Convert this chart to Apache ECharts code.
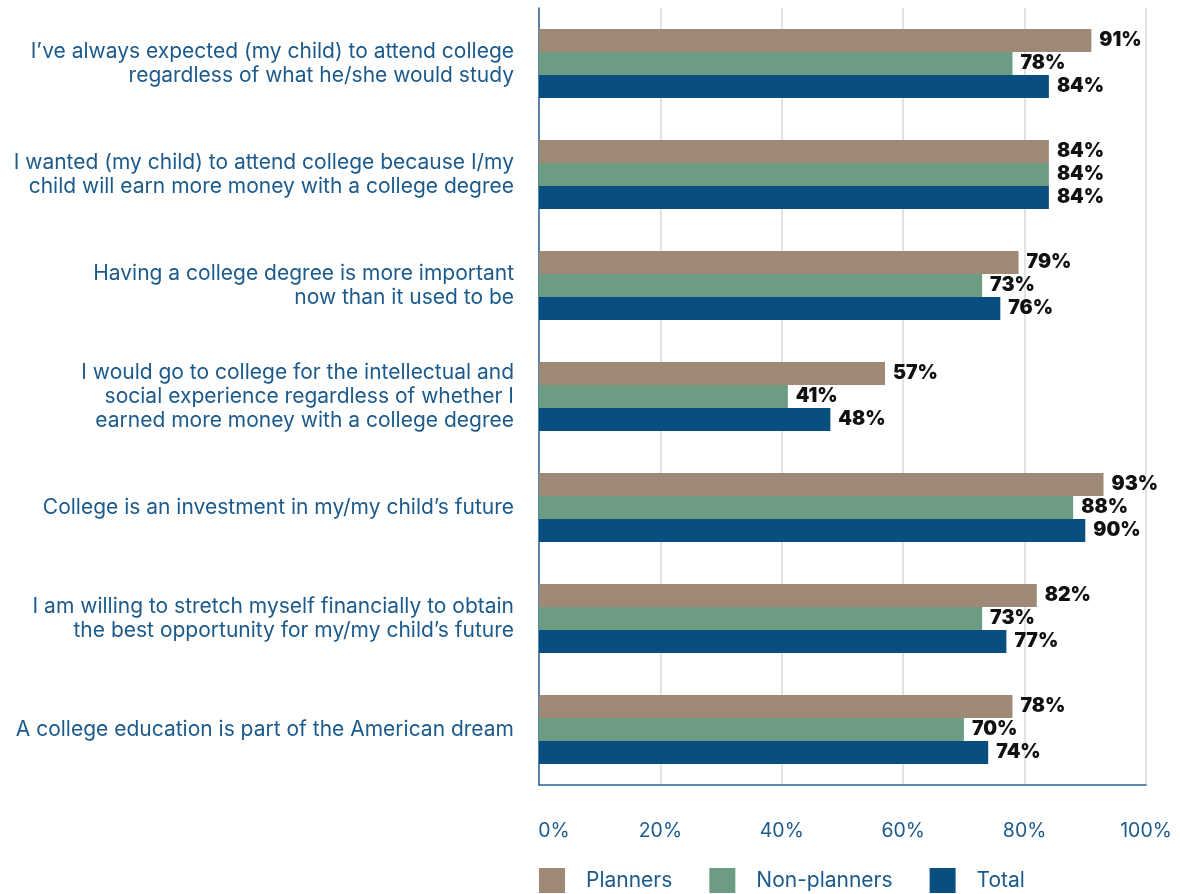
<!DOCTYPE html>
<html><head><meta charset="utf-8">
<script src="https://cdn.jsdelivr.net/npm/echarts@6/dist/echarts.min.js"></script>
<style>html,body{margin:0;padding:0;background:#fff}#c{width:1180px;height:894px}</style>
</head><body><div id="c"></div>
<script>
const categories = [
  "I\u2019ve always expected (my child) to attend college\nregardless of what he/she would study",
  "I wanted (my child) to attend college because I/my\nchild will earn more money with a college degree",
  "Having a college degree is more important\nnow than it used to be",
  "I would go to college for the intellectual and\nsocial experience regardless of whether I\nearned more money with a college degree",
  "College is an investment in my/my child\u2019s future",
  "I am willing to stretch myself financially to obtain\nthe best opportunity for my/my child\u2019s future",
  "A college education is part of the American dream"
];
const seriesNames = ["Planners", "Non-planners", "Total"];
const planners = [91, 84, 79, 57, 93, 82, 78];
const nonPlanners = [78, 84, 73, 41, 88, 73, 70];
const total = [84, 84, 76, 48, 90, 77, 74];
const colors = ["#9E8876", "#6C9C82", "#084F80"];
const textBlue = "#1C5A8C";
const fontFam = "Inter, 'Noto Sans', sans-serif";

const chart = echarts.init(document.getElementById('c'), null, {renderer: 'canvas'});
function mk(name, data, color) {
  return {
    name, type: 'bar', data, barWidth: 23, barGap: '0%',
    itemStyle: {color},
    label: {show: true, position: 'right', distance: 8, formatter: '{c}%',
      color: '#111', fontWeight: 900, fontSize: 19.5, fontFamily: fontFam}
  };
}
chart.setOption({
  animation: false,
  color: colors,
  grid: {left: 539, right: 34, top: 8, bottom: 109, containLabel: false},
  legend: {
    bottom: 1, left: 539, itemWidth: 26, itemHeight: 25, itemGap: 37, padding: 0,
    icon: 'rect',
    textStyle: {color: textBlue, fontSize: 21, fontFamily: fontFam, padding: [0, 0, 0, 16]},
    data: seriesNames
  },
  xAxis: {
    type: 'value', min: 0, max: 100, interval: 20,
    axisLine: {show: true, lineStyle: {color: '#2A6496', width: 1.5}},
    axisTick: {show: false},
    splitLine: {show: true, lineStyle: {color: '#DADADA', width: 1.5}},
    axisLabel: {color: textBlue, fontSize: 19.5, fontFamily: fontFam, margin: 36,
      formatter: v => v === 0 ? '{a|0%}' : v + '%',
      rich: {a: {color: textBlue, fontSize: 19.5, fontFamily: fontFam, padding: [0, 0, 0, 30]}}}
  },
  yAxis: {
    type: 'category', data: categories, inverse: true,
    axisLine: {show: true, lineStyle: {color: '#2A6496', width: 1.5}},
    axisTick: {show: false},
    axisLabel: {color: textBlue, fontSize: 21, fontFamily: fontFam, margin: 25, lineHeight: 24, align: 'right'}
  },
  series: [mk(seriesNames[0], planners, colors[0]), mk(seriesNames[1], nonPlanners, colors[1]), mk(seriesNames[2], total, colors[2])]
});
</script></body></html>
